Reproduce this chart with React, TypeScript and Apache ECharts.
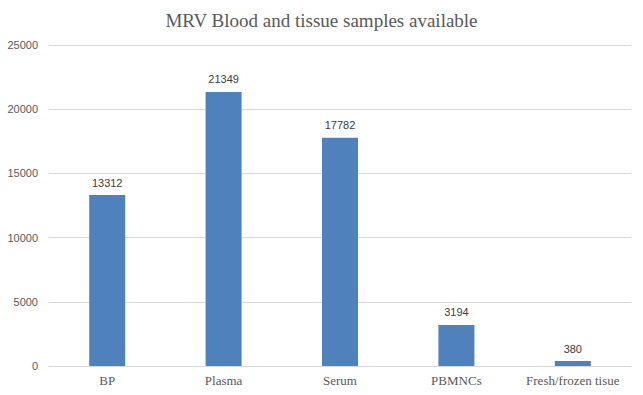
import React, { useEffect, useRef } from "react";
import * as echarts from "echarts";

const categories = ["BP", "Plasma", "Serum", "PBMNCs", "Fresh/frozen tisue"];
const values = [13312, 21349, 17782, 3194, 380];
const titleText = "MRV Blood and tissue samples available";

export default function App() {
  const ref = useRef<HTMLDivElement>(null);
  useEffect(() => {
    const chart = echarts.init(ref.current!, null, { renderer: "svg" });
    chart.setOption({
      animation: false,
      backgroundColor: "#ffffff",
      title: {
        text: titleText,
        left: "center",
        top: 6,
        textStyle: {
          fontFamily: "Liberation Serif",
          fontWeight: "normal",
          fontSize: 19,
          color: "#595959",
        },
      },
      grid: { left: 49, right: 12, top: 45, bottom: 29, containLabel: false },
      xAxis: {
        type: "category",
        data: categories,
        axisTick: { show: false },
        axisLine: { lineStyle: { color: "#d9d9d9" } },
        axisLabel: {
          interval: 0,
          hideOverlap: false,
          fontFamily: "Liberation Serif",
          fontSize: 13,
          color: "#595959",
          margin: 8,
        },
      },
      yAxis: {
        type: "value",
        min: 0,
        max: 25000,
        interval: 5000,
        axisLine: { show: false },
        axisTick: { show: false },
        splitLine: { lineStyle: { color: "#d9d9d9" } },
        axisLabel: {
          fontFamily: "Liberation Sans",
          fontSize: 11,
          color: "#595959",
          margin: 11,
          formatter: (v: number) => String(v),
        },
      },
      series: [
        {
          type: "bar",
          data: values,
          barWidth: 36,
          itemStyle: { color: "#4f81bd" },
          label: {
            show: true,
            position: "top",
            distance: 7,
            fontFamily: "Liberation Sans",
            fontSize: 11,
            color: "#404040",
          },
        },
      ],
    });
    return () => chart.dispose();
  }, []);
  return (
    <div
      ref={ref}
      style={{ position: "absolute", left: 0, top: 0, width: 643, height: 395 }}
    />
  );
}
